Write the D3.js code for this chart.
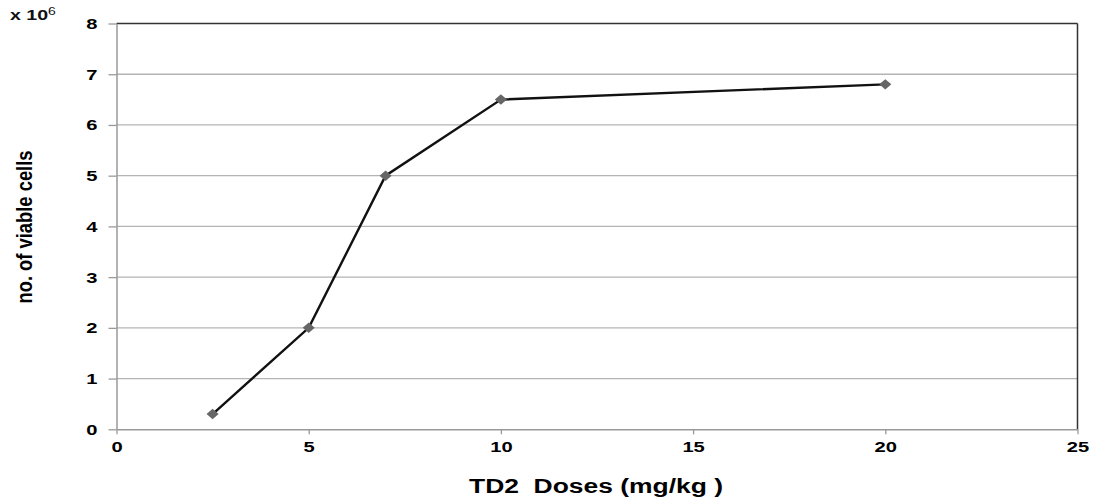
<!DOCTYPE html>
<html><head><meta charset="utf-8">
<script src="https://cdn.jsdelivr.net/npm/d3@7"></script>
<style>body{margin:0;background:#fff}svg{display:block}</style>
</head><body>
<svg id="c" width="1094" height="499"></svg>
<script>
const doses = [2.5, 5, 7, 10, 20];
const viable = [0.3, 2, 5, 6.5, 6.8];
const xTicks = [0, 5, 10, 15, 20, 25];
const yTicks = [0, 1, 2, 3, 4, 5, 6, 7, 8];

const svg = d3.select("#c");
const L = 116.5, R = 1077.5, T = 23.5, B = 429.3;
const x = d3.scaleLinear().domain([0, 25]).range([L, R]);
const y = d3.scaleLinear().domain([0, 8]).range([B, T]);
const font = "Liberation Sans, Arial, sans-serif";
const SX = 1.3;

// gridlines
svg.append("g").selectAll("line").data(yTicks.filter(d => d > 0 && d < 8)).join("line")
  .attr("x1", L).attr("x2", R).attr("y1", d => y(d)).attr("y2", d => y(d))
  .attr("stroke", "#b4b4b4").attr("stroke-width", 1.3);

// frame: top & right dark
svg.append("line").attr("x1", L).attr("x2", R).attr("y1", T).attr("y2", T).attr("stroke", "#333").attr("stroke-width", 1.5);
svg.append("line").attr("x1", R).attr("x2", R).attr("y1", T).attr("y2", B).attr("stroke", "#333").attr("stroke-width", 1.5);

// y axis
const ya = svg.append("g").attr("transform", `translate(${L},0)`)
  .call(d3.axisLeft(y).tickValues(yTicks).tickSize(8).tickSizeOuter(0).tickPadding(12));
ya.select(".domain").attr("stroke", "#999").attr("stroke-width", 1.5);
ya.selectAll(".tick line").attr("stroke", "#999").attr("stroke-width", 1.3);
ya.selectAll(".tick text").attr("font-family", font).attr("font-weight", "bold")
  .attr("font-size", 15.5).attr("fill", "#000")
  .attr("x", 0).attr("transform", `translate(-19,0) scale(${SX},1)`);

// x axis
const xa = svg.append("g").attr("transform", `translate(0,${B})`)
  .call(d3.axisBottom(x).tickValues(xTicks).tickSize(5).tickSizeOuter(0).tickPadding(7));
xa.select(".domain").attr("stroke", "#999").attr("stroke-width", 1.5);
xa.selectAll(".tick line").attr("stroke", "#999").attr("stroke-width", 1.3);
xa.selectAll(".tick text").attr("font-family", font).attr("font-weight", "bold")
  .attr("font-size", 15.5).attr("fill", "#000")
  .attr("transform", `scale(${SX},1)`);

// line
const pts = doses.map((d, i) => [d, viable[i]]);
svg.append("path").datum(pts)
  .attr("d", d3.line().x(d => x(d[0])).y(d => y(d[1])))
  .attr("fill", "none").attr("stroke", "#111").attr("stroke-width", 2.4);

// markers
svg.append("g").selectAll("path").data(pts).join("path")
  .attr("d", d3.symbol(d3.symbolDiamond2, 70))
  .attr("transform", d => `translate(${x(d[0])},${y(d[1])}) scale(1.15,1)`)
  .attr("fill", "#666");

// multiplier
const m = svg.append("text").attr("transform", `translate(10,20) scale(1.4,1)`).attr("font-family", font)
  .attr("font-weight", "bold").attr("font-size", 14).attr("fill", "#111");
m.append("tspan").text("x 10");
m.append("tspan").attr("dy", -5).attr("font-size", 10).attr("font-weight", "normal").text("6");

// axis titles
svg.append("text").attr("x", 596).attr("y", 493).attr("text-anchor", "middle")
  .attr("font-family", font).attr("font-weight", "bold").attr("font-size", 20)
  .attr("textLength", 254).attr("lengthAdjust", "spacingAndGlyphs")
  .attr("fill", "#000").text("TD2\u00a0\u00a0Doses (mg/kg )");

svg.append("text").attr("transform", "translate(32,227) rotate(-90)").attr("text-anchor", "middle")
  .attr("font-family", "'Liberation Sans Narrow', 'Arial Narrow', " + font).attr("font-weight", "bold")
  .attr("font-size", 22).attr("textLength", 153).attr("lengthAdjust", "spacingAndGlyphs")
  .attr("fill", "#000").text("no. of viable cells");
</script>
</body></html>
